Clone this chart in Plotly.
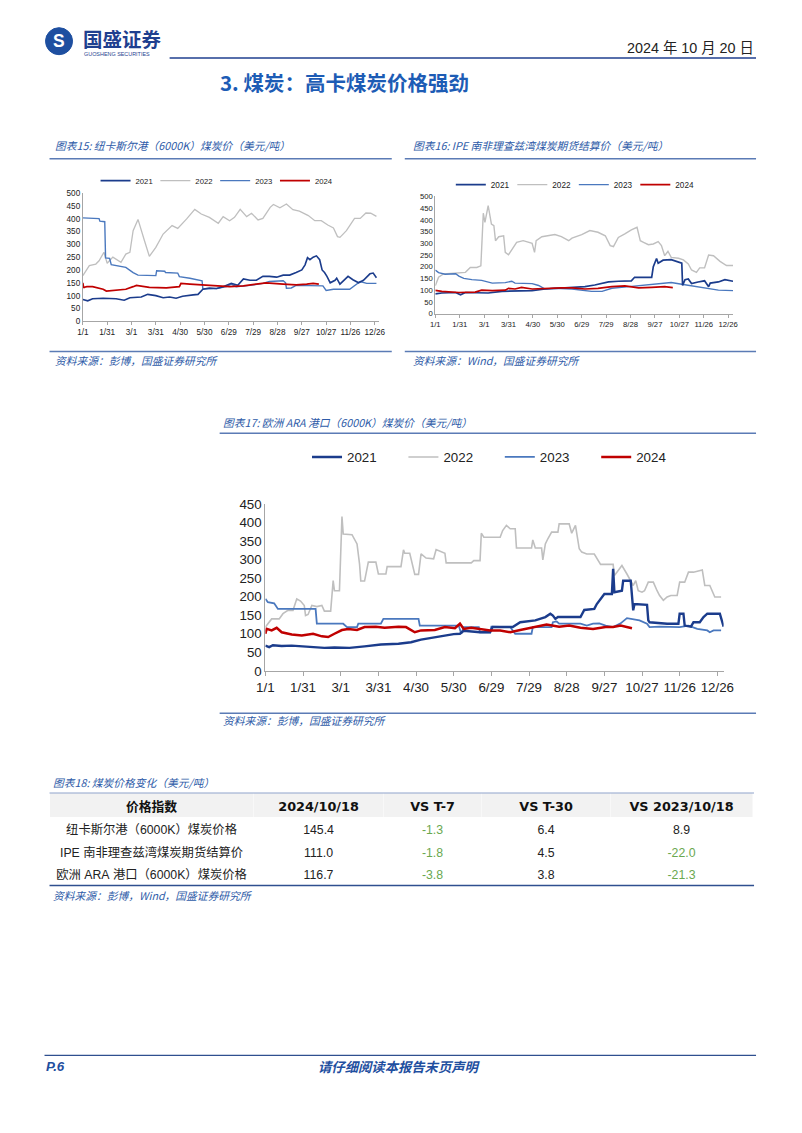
import plotly.graph_objects as go

# Figure size.  The photographed page places the figure at screen = OX + SX * fig_x and
# OY + SY * fig_y (measured), so reference pixel positions are mapped back through it.
W, H = 802, 1133
OX, SX = 17.5, 0.9756
OY, SY = 14.3, 0.987


def fx(p):
    return (p - OX) / SX / W


def fy(p):
    return 1 - (p - OY) / SY / H


def fs(s):
    return round(s / SX, 2)


FONT = "Liberation Sans, Noto Sans CJK SC, sans-serif"
CJK = "Noto Sans CJK SC, Liberation Sans, sans-serif"
BLUE_TXT = "#2E5BA8"
RULE = "#5B7BB5"
NBSP = "\u00a0"

# ---------------- shared categories ----------------
TICK_DAYS = [0, 30, 60, 90, 120, 150, 180, 210, 240, 270, 300, 330, 360]
TICK_LABELS = ["1/1", "1/31", "3/1", "3/31", "4/30", "5/30", "6/29", "7/29",
               "8/28", "9/27", "10/27", "11/26", "12/26"]
YEARS = ["2021", "2022", "2023", "2024"]
COLORS = {"2021": "#1B3C8C", "2022": "#BFBFBF", "2023": "#4A78BE", "2024": "#C00000"}

# ---------------- Chart 15: Newcastle (6000K) ----------------
nc21_day = [0, 6, 12, 25, 41, 51, 58, 72, 80, 90, 99, 107, 115, 123, 136, 142, 148, 156, 165, 173,
            183, 191, 198, 206, 214, 222, 230, 239, 247, 255, 263, 270, 274, 277, 280, 284, 288, 292, 295, 298,
            301, 305, 311, 313, 317, 327, 333, 340, 346, 354, 358, 362]
nc21_val = [85, 80, 88, 90, 88, 82, 92, 95, 105, 100, 92, 95, 90, 98, 103, 105, 125, 130, 128, 135,
            148, 140, 165, 160, 160, 175, 175, 172, 180, 180, 190, 200, 220, 248, 240, 250, 255, 240, 200, 190,
            175, 150, 160, 168, 145, 175, 162, 150, 160, 185, 188, 170]
nc22_day = [0, 8, 16, 20, 26, 30, 37, 47, 53, 58, 62, 68, 76, 82, 90, 99, 110, 117, 128, 138,
            146, 156, 167, 173, 181, 187, 194, 202, 208, 216, 222, 231, 235, 243, 251, 259, 267, 278, 286, 294,
            302, 309, 314, 317, 325, 335, 342, 349, 355, 362]
nc22_val = [178, 217, 223, 236, 269, 226, 250, 230, 262, 269, 353, 397, 314, 253, 288, 340, 373, 362, 399, 436,
            418, 405, 382, 408, 392, 405, 436, 408, 421, 395, 401, 444, 455, 442, 457, 435, 429, 412, 392, 392,
            375, 364, 330, 327, 353, 401, 401, 422, 421, 409]
nc23_day = [0, 20, 21, 26, 27, 28, 33, 35, 53, 62, 68, 90, 91, 101, 102, 117, 119, 132, 146, 147,
            148, 165, 177, 183, 189, 206, 222, 230, 247, 250, 251, 257, 263, 288, 296, 300, 309, 329, 335, 342,
            350, 362]
nc23_val = [403, 400, 390, 390, 388, 247, 245, 221, 210, 190, 180, 178, 197, 195, 190, 188, 174, 168, 161, 158,
            126, 128, 135, 145, 135, 140, 148, 155, 158, 150, 129, 130, 140, 140, 138, 120, 125, 125, 140, 155,
            148, 148]
nc24_day = [0, 1, 2, 5, 12, 25, 29, 41, 53, 62, 66, 82, 103, 119, 121, 132, 148, 165, 181, 198,
            214, 226, 247, 263, 276, 284, 291]
nc24_val = [150, 130, 133, 135, 135, 125, 118, 122, 125, 135, 140, 132, 130, 135, 148, 145, 142, 138, 135, 138,
            145, 150, 145, 142, 145, 148, 145]

# ---------------- Chart 16: IPE Richards Bay futures ----------------
rb21_day = [0, 8, 25, 31, 37, 51, 65, 82, 98, 119, 135, 155, 168, 184, 196, 213, 225, 241, 245, 266,
            268, 272, 274, 280, 290, 299, 303, 304, 307, 311, 315, 323, 331, 336, 338, 348, 356, 366]
rb21_val = [84, 88, 90, 80, 90, 90, 88, 95, 95, 98, 105, 110, 112, 115, 122, 135, 138, 140, 155, 155,
            200, 235, 215, 228, 230, 220, 215, 120, 145, 148, 128, 135, 140, 115, 130, 135, 145, 138]
rb22_day = [0, 4, 10, 25, 37, 43, 51, 56, 58, 59, 61, 65, 69, 72, 74, 78, 84, 86, 90, 93,
            100, 108, 119, 122, 124, 131, 147, 155, 164, 168, 180, 190, 200, 209, 215, 219, 225, 233, 241, 248,
            252, 256, 262, 268, 274, 278, 282, 286, 290, 299, 305, 311, 315, 321, 325, 331, 336, 342, 350, 358,
            366]
rb22_val = [119, 155, 169, 173, 176, 197, 197, 204, 354, 428, 389, 460, 382, 375, 311, 328, 332, 261, 251, 268,
            304, 311, 300, 261, 311, 328, 337, 328, 311, 322, 337, 354, 347, 332, 290, 286, 325, 340, 357, 368,
            311, 304, 294, 297, 307, 290, 247, 266, 240, 236, 229, 212, 186, 176, 195, 195, 250, 247, 223, 205,
            205]
rb23_day = [0, 4, 12, 25, 29, 35, 45, 57, 70, 86, 94, 98, 119, 127, 135, 147, 168, 180, 192, 205,
            217, 229, 250, 266, 278, 290, 303, 315, 327, 340, 348, 366]
rb23_val = [186, 175, 168, 170, 160, 150, 145, 142, 130, 132, 138, 130, 128, 120, 105, 108, 105, 100, 95, 95,
            108, 112, 120, 125, 130, 133, 125, 118, 112, 105, 100, 98]
rb24_day = [0, 8, 29, 49, 57, 70, 86, 90, 98, 106, 119, 135, 155, 168, 184, 200, 217, 233, 250, 266,
            282, 292]
rb24_val = [99, 95, 90, 92, 100, 98, 100, 108, 105, 112, 105, 108, 110, 110, 105, 108, 115, 118, 110, 112,
            115, 111]

# ---------------- Chart 17: Europe ARA (6000K) ----------------
ara21_day = [0, 3, 6, 13, 21, 29, 37, 47, 55, 67, 79, 92, 106, 116, 124, 135, 143, 150, 155, 158,
             171, 179, 181, 197, 203, 215, 223, 227, 229, 231, 233, 251, 254, 262, 264, 270, 276, 277, 278, 284,
             285, 291, 293, 294, 304, 305, 306, 320, 329, 330, 333, 334, 339, 341, 346, 349, 352, 362, 365]
ara21_val = [68, 64, 69, 67, 68, 66, 64, 62, 63, 62, 66, 71, 73, 77, 84, 91, 95, 99, 100, 108,
             104, 104, 118, 118, 131, 136, 145, 154, 149, 140, 145, 145, 164, 167, 180, 207, 207, 275, 212, 216,
             243, 243, 163, 180, 178, 136, 131, 127, 127, 154, 154, 122, 119, 131, 131, 145, 154, 154, 119]
ara22_day = [0, 2, 5, 11, 14, 18, 22, 25, 28, 31, 32, 34, 37, 41, 45, 47, 52, 54, 55, 59,
             61, 62, 69, 73, 75, 76, 79, 82, 88, 90, 96, 97, 108, 110, 111, 115, 118, 119, 122, 124,
             128, 134, 136, 143, 144, 164, 166, 171, 172, 174, 187, 189, 192, 195, 199, 200, 212, 213, 215, 220,
             221, 223, 225, 228, 233, 234, 242, 244, 247, 250, 252, 256, 262, 267, 277, 278, 280, 284, 288, 293,
             295, 297, 300, 302, 305, 309, 312, 314, 317, 320, 323, 328, 330, 334, 337, 341, 348, 350, 354, 358,
             363]
ara22_val = [118, 127, 140, 140, 154, 163, 163, 194, 188, 176, 149, 152, 176, 173, 176, 161, 161, 243, 216, 216,
             416, 369, 367, 342, 288, 242, 242, 293, 293, 261, 261, 281, 281, 326, 317, 317, 278, 260, 260, 315,
             304, 302, 327, 317, 291, 291, 297, 297, 371, 360, 360, 378, 392, 383, 383, 331, 331, 353, 331, 331,
             299, 342, 356, 374, 374, 396, 396, 371, 392, 329, 320, 315, 315, 287, 287, 257, 266, 284, 261, 230,
             243, 216, 212, 216, 239, 239, 216, 203, 190, 199, 203, 203, 239, 239, 266, 266, 272, 230, 230, 199,
             199]
ara23_day = [0, 2, 7, 10, 40, 41, 62, 65, 73, 74, 92, 94, 122, 123, 154, 156, 158, 170, 171, 179,
             180, 195, 199, 212, 213, 228, 229, 232, 234, 251, 256, 261, 266, 271, 277, 283, 288, 293, 298, 304,
             306, 314, 320, 330, 337, 344, 352, 354, 357, 363]
ara23_val = [194, 185, 182, 167, 167, 127, 127, 118, 118, 127, 127, 140, 140, 122, 122, 100, 118, 118, 104, 104,
             119, 118, 100, 100, 118, 118, 131, 133, 127, 127, 122, 127, 128, 122, 118, 128, 142, 140, 136, 127,
             118, 119, 118, 118, 122, 113, 109, 104, 109, 109]
ara24_day = [0, 1, 5, 9, 13, 21, 29, 38, 45, 50, 55, 61, 66, 73, 79, 88, 95, 100, 106, 112,
             119, 124, 135, 143, 151, 155, 158, 164, 171, 179, 187, 195, 203, 213, 224, 234, 242, 251, 261, 271,
             277, 283, 288, 292]
ara24_val = [100, 113, 109, 116, 104, 98, 95, 100, 93, 91, 100, 110, 113, 110, 118, 119, 116, 118, 119, 118,
             104, 109, 110, 118, 115, 127, 113, 116, 113, 109, 109, 104, 110, 118, 125, 119, 122, 116, 113, 118,
             118, 122, 119, 115]

# ---------------- Table 18 ----------------
tbl_header = ["价格指数", "2024/10/18", "VS T-7", "VS T-30", "VS 2023/10/18"]
tbl_index = ["纽卡斯尔港（6000K）煤炭价格", "IPE 南非理查兹湾煤炭期货结算价", "欧洲 ARA 港口（6000K）煤炭价格"]
tbl_price = [145.4, 111.0, 116.7]
tbl_t7 = [-1.3, -1.8, -3.8]
tbl_t30 = [6.4, 4.5, 3.8]
tbl_yoy = [8.9, -22.0, -21.3]

fig = go.Figure()

CHARTS = [
    dict(series={"2021": (nc21_day, nc21_val), "2022": (nc22_day, nc22_val),
                 "2023": (nc23_day, nc23_val), "2024": (nc24_day, nc24_val)},
         xa="x", ya="y", legend="legend",
         widths={"2021": 1.6, "2022": 1.3, "2023": 1.4, "2024": 1.7}),
    dict(series={"2021": (rb21_day, rb21_val), "2022": (rb22_day, rb22_val),
                 "2023": (rb23_day, rb23_val), "2024": (rb24_day, rb24_val)},
         xa="x2", ya="y2", legend="legend2",
         widths={"2021": 1.7, "2022": 1.4, "2023": 1.4, "2024": 1.7}),
    dict(series={"2021": (ara21_day, ara21_val), "2022": (ara22_day, ara22_val),
                 "2023": (ara23_day, ara23_val), "2024": (ara24_day, ara24_val)},
         xa="x3", ya="y3", legend="legend3",
         widths={"2021": 2.4, "2022": 1.6, "2023": 1.8, "2024": 2.5}),
]
DRAW_ORDER = ["2022", "2023", "2021", "2024"]
for ch in CHARTS:
    for yr in DRAW_ORDER:
        d, v = ch["series"][yr]
        fig.add_trace(go.Scatter(
            x=d, y=v, mode="lines", name=yr,
            line=dict(color=COLORS[yr], width=ch["widths"][yr]),
            xaxis=ch["xa"], yaxis=ch["ya"], legend=ch["legend"],
            legendrank=YEARS.index(yr) + 1, hoverinfo="skip"))


def fmt(v):
    return f"{v:.1f}"


def nb(s):
    return s.replace(" ", NBSP)


def col_colors(vals):
    return ["#6AA84F" if v < 0 else "#222222" for v in vals]


fig.add_trace(go.Table(
    domain=dict(x=[fx(50), fx(753)], y=[fy(905), fy(792.5)]),
    columnwidth=[204, 130, 98, 129, 142],
    header=dict(values=[nb(h) for h in tbl_header],
                fill_color="#F2F2F2", line=dict(width=0, color="rgba(0,0,0,0)"),
                align="center", height=23.6 / SY,
                font=dict(family="DejaVu Sans, Noto Sans CJK SC", size=fs(12.5), color="#111",
                          weight="bold")),
    cells=dict(values=[[nb(s) for s in tbl_index], [fmt(v) for v in tbl_price], [fmt(v) for v in tbl_t7],
                       [fmt(v) for v in tbl_t30], [fmt(v) for v in tbl_yoy]],
               fill_color="white", line=dict(width=0, color="rgba(0,0,0,0)"),
               align="center", height=22.3 / SY,
               font=dict(family=FONT, size=fs(12),
                         color=[["#222222"] * 3, ["#222222"] * 3, col_colors(tbl_t7),
                                col_colors(tbl_t30), col_colors(tbl_yoy)]))))

AX = dict(showgrid=False, zeroline=False, showline=True, linecolor="#A6A6A6", linewidth=1)


def xax(x0, x1, anchor, rng, size, tlen):
    return dict(domain=[fx(x0), fx(x1)], range=rng, anchor=anchor, tickmode="array",
                tickvals=TICK_DAYS, ticktext=TICK_LABELS, ticks="outside", ticklen=tlen,
                tickcolor="#A6A6A6", tickfont=dict(size=fs(size), color="#222"), **AX)


def yax(y0, y1, anchor, top, size):
    return dict(domain=[fy(y0), fy(y1)], range=[0, top], anchor=anchor, dtick=50, tick0=0,
                ticks="", tickfont=dict(size=fs(size), color="#222"), **AX)


def legend(x, y, size, pitch):
    return dict(orientation="h", x=fx(x), y=fy(y), xanchor="left", yanchor="middle",
                font=dict(size=fs(size), color="#222"), entrywidth=round(pitch / SX - 45, 1),
                entrywidthmode="pixels", bgcolor="rgba(0,0,0,0)",
                itemclick=False, itemdoubleclick=False)


def ann(text, x, y, size, color="#222", anchor="left", family=FONT):
    return dict(text=text, x=fx(x), y=fy(y), xref="paper", yref="paper", showarrow=False,
                xanchor=anchor, yanchor="middle", font=dict(size=fs(size), color=color, family=family))


def hline(x0, x1, y, color=RULE, width=1.5):
    return dict(type="line", xref="paper", yref="paper", x0=fx(x0), x1=fx(x1), y0=fy(y), y1=fy(y),
                line=dict(color=color, width=width))


annotations = [
    ann("<b>国盛证券</b>", 81, 37.5, 19, "#1F3F8F", family=CJK),
    ann("GUOSHENG SECURITIES", 82, 53.5, 5.3, "#1F3F8F"),
    ann("<b>S</b>", 59.5, 40.5, 17, "white", anchor="center"),
    ann("2024 年 10 月 20 日", 756, 47.5, 14, "#222", anchor="right"),
    ann("<b>3. 煤炭：高卡煤炭价格强劲</b>", 218, 81, 20, "#1D5CB5", family=CJK),
    ann("<i>图表15: 纽卡斯尔港（6000K）煤炭价（美元/吨）</i>", 53, 145, 10.5, BLUE_TXT, family=CJK),
    ann("<i>图表16: IPE 南非理查兹湾煤炭期货结算价（美元/吨）</i>", 411, 145, 10.5, BLUE_TXT, family=CJK),
    ann("<i>资料来源：彭博，国盛证券研究所</i>", 53, 360, 10.5, BLUE_TXT, family=CJK),
    ann("<i>资料来源：Wind，国盛证券研究所</i>", 411, 360, 10.5, BLUE_TXT, family=CJK),
    ann("<i>图表17: 欧洲 ARA 港口（6000K）煤炭价（美元/吨）</i>", 221, 421.5, 10.5, BLUE_TXT, family=CJK),
    ann("<i>资料来源：彭博，国盛证券研究所</i>", 221, 720, 10.5, BLUE_TXT, family=CJK),
    ann("<i>图表18: 煤炭价格变化（美元/吨）</i>", 51, 781.5, 10.5, BLUE_TXT, family=CJK),
    ann("<i>资料来源：彭博，Wind，国盛证券研究所</i>", 51, 895.5, 10.5, BLUE_TXT, family=CJK),
    ann("<b><i>P.6</i></b>", 44, 1066, 13, "#1F4F9F"),
    ann("<b><i>请仔细阅读本报告末页声明</i></b>", 400, 1066, 13, "#1F4F9F", anchor="center", family=CJK),
]

shapes = [
    dict(type="circle", xref="paper", yref="paper", x0=fx(46), x1=fx(73), y0=fy(54), y1=fy(27),
         fillcolor="#1E4FA0", line=dict(color="#1E4FA0", width=1)),
    hline(170, 756, 57.3, "#1F3F8F", 1.6),
    hline(50, 392, 158, RULE, 1.5),
    hline(405, 756, 158, RULE, 1.5),
    hline(50, 392, 351, RULE, 1.5),
    hline(405, 756, 351, RULE, 1.5),
    hline(220, 756, 432.7, RULE, 1.5),
    hline(220, 756, 712.7, RULE, 1.5),
    hline(50, 754, 792.5, "#8FA3CC", 1.2),
    hline(50, 754, 885, "#2F4F8F", 1.6),
    hline(45, 756, 1055, "#2F4F8F", 1.2),
]

fig.update_layout(
    width=W, height=H, margin=dict(l=0, r=0, t=0, b=0),
    paper_bgcolor="white", plot_bgcolor="white",
    font=dict(family=FONT, color="#222"),
    xaxis=xax(83.3, 379.1, "y", [0, 365], 8, 3),
    yaxis=yax(320.7, 192.3, "x", 500, 8),
    xaxis2=xax(435.5, 733.0, "y2", [0, 366], 7.5, 3),
    yaxis2=yax(313, 195.7, "x2", 500, 7.5),
    xaxis3=xax(265.7, 723.6, "y3", [0, 365], 13, 4),
    yaxis3=yax(670.3, 503.3, "x3", 450, 13),
    legend=legend(96, 180, 7.5, 58.3),
    legend2=legend(451, 184, 8, 60),
    legend3=legend(307.3, 456.7, 13, 94),
    annotations=annotations,
    shapes=shapes,
    showlegend=True,
)

fig.write_html("out.html", config={"displayModeBar": False})
